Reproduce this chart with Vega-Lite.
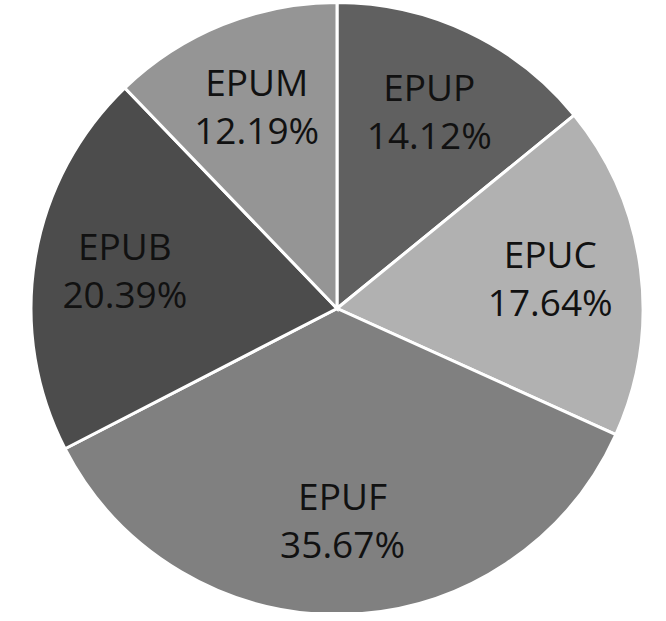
{
  "$schema": "https://vega.github.io/schema/vega-lite/v6.json",
  "width": 640,
  "height": 607,
  "autosize": {"type": "none"},
  "padding": {"left": 17, "top": 5, "right": 0, "bottom": 0},
  "background": "white",
  "view": {"stroke": null},
  "data": {
    "values": [
      {"category": "EPUP", "value": 14.12, "i": 1},
      {"category": "EPUC", "value": 17.64, "i": 2},
      {"category": "EPUF", "value": 35.67, "i": 3},
      {"category": "EPUB", "value": 20.39, "i": 4},
      {"category": "EPUM", "value": 12.19, "i": 5}
    ]
  },
  "transform": [
    {"calculate": "datum.category + '\\n' + format(datum.value, '.2f') + '%'", "as": "label"}
  ],
  "encoding": {
    "theta": {"field": "value", "type": "quantitative", "stack": true},
    "order": {"field": "i", "type": "quantitative"}
  },
  "layer": [
    {
      "mark": {"type": "arc", "radius": 306, "stroke": "white", "strokeWidth": 3},
      "encoding": {
        "color": {
          "field": "category",
          "type": "nominal",
          "scale": {
            "domain": ["EPUP", "EPUC", "EPUF", "EPUB", "EPUM"],
            "range": ["#606060", "#b1b1b1", "#808080", "#4c4c4c", "#959595"]
          },
          "legend": null
        }
      }
    },
    {
      "mark": {
        "type": "text",
        "radius": 215,
        "dy": -24,
        "font": "Open Sans",
        "fontSize": 37,
        "lineBreak": "\n",
        "lineHeight": 48,
        "baseline": "middle",
        "align": "center",
        "fill": "#111111"
      },
      "encoding": {
        "text": {"field": "label", "type": "nominal"}
      }
    }
  ]
}
